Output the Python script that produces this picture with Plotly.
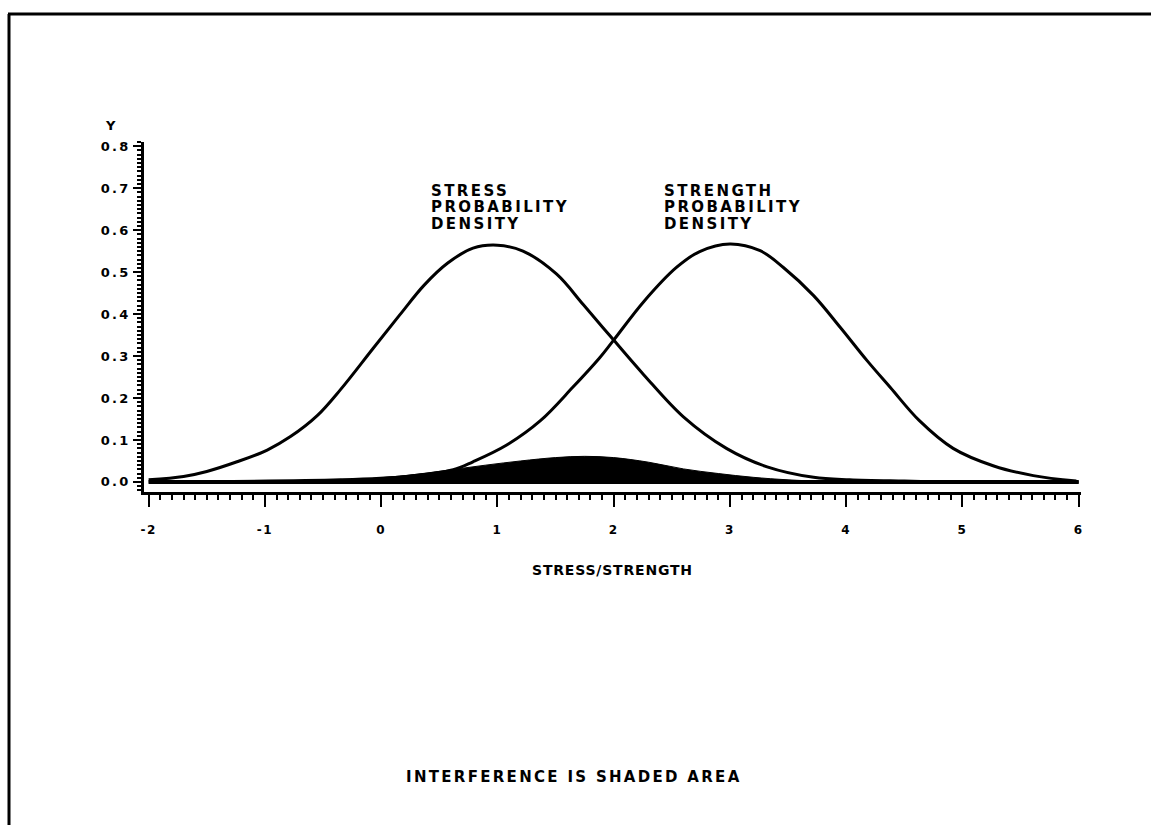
import plotly.graph_objects as go

# ---- data ----
stress_x = [-2.0, -1.7, -1.5, -1.24, -0.98, -0.78, -0.55, -0.35, -0.07, 0.16, 0.37, 0.57, 0.79, 1.0,
            1.22, 1.51, 1.74, 2.0, 2.26, 2.6, 2.97, 3.32, 3.72, 4.03, 4.5, 5.0, 6.0]
stress_y = [0.005, 0.013, 0.025, 0.048, 0.076, 0.108, 0.158, 0.220, 0.318, 0.398, 0.469, 0.521, 0.557, 0.564,
            0.550, 0.495, 0.422, 0.338, 0.255, 0.155, 0.080, 0.036, 0.011, 0.005, 0.002, 0.0, 0.0]

strength_x = [-2.0, -0.35, 0.22, 0.62, 0.79, 1.08, 1.37, 1.65, 1.88, 2.0, 2.26, 2.54, 2.74, 3.0,
              3.26, 3.46, 3.72, 3.95, 4.18, 4.38, 4.63, 4.92, 5.27, 5.61, 5.98]
strength_y = [0.0, 0.005, 0.013, 0.029, 0.048, 0.088, 0.146, 0.226, 0.296, 0.338, 0.430, 0.511, 0.549, 0.567,
              0.551, 0.511, 0.444, 0.368, 0.289, 0.225, 0.146, 0.080, 0.038, 0.015, 0.002]

shade_x = [-0.5, 0.0, 0.3, 0.6, 0.9, 1.2, 1.5, 1.75, 2.0, 2.3, 2.6, 2.9, 3.2, 3.5, 3.9]
shade_y = [0.0, 0.010, 0.018, 0.029, 0.040, 0.050, 0.058, 0.061, 0.058, 0.047, 0.031, 0.020, 0.011, 0.005, 0.0]

baseline_x = [-2.0, 6.0]
baseline_y = [0.0, 0.0]

x_tick_vals = [-2, -1, 0, 1, 2, 3, 4, 5, 6]
x_tick_text = ["-2", "-1", "0", "1", "2", "3", "4", "5", "6"]
y_tick_vals = [0.0, 0.1, 0.2, 0.3, 0.4, 0.5, 0.6, 0.7, 0.8]
y_tick_text = ["0.0", "0.1", "0.2", "0.3", "0.4", "0.5", "0.6", "0.7", "0.8"]

stress_label = ["STRESS", "PROBABILITY", "DENSITY"]
strength_label = ["STRENGTH", "PROBABILITY", "DENSITY"]
x_title = "STRESS/STRENGTH"
y_title = "Y"
footer = "INTERFERENCE IS SHADED AREA"

# ---- layout geometry ----
W, H = 1151, 825
ML, MR, MT, MB = 144, 70, 142, 333
PW = W - ML - MR
PH = H - MT - MB


def px(xp):
    return (xp - ML) / PW


def py(yp):
    return (H - MB - yp) / PH


FONT = "DejaVu Sans"


def spaced(s, sp):
    return f'<span style="letter-spacing:{sp}px">{s}</span>'


fig = go.Figure()
fig.add_trace(go.Scatter(x=shade_x, y=shade_y, mode="lines", fill="tozeroy",
                         fillcolor="black", line=dict(color="black", width=1, shape="spline"),
                         hoverinfo="skip", showlegend=False))
fig.add_trace(go.Scatter(x=baseline_x, y=baseline_y, mode="lines",
                         line=dict(color="black", width=4), showlegend=False))
fig.add_trace(go.Scatter(x=stress_x, y=stress_y, mode="lines",
                         line=dict(color="black", width=3, shape="spline", smoothing=1.0), showlegend=False))
fig.add_trace(go.Scatter(x=strength_x, y=strength_y, mode="lines",
                         line=dict(color="black", width=3, shape="spline", smoothing=1.0), showlegend=False))

annotations = []
LABEL_PITCH = 16.5
for lx, lines in ((430, stress_label), (663, strength_label)):
    for i, s in enumerate(lines):
        annotations.append(dict(text=spaced(s, 2.4), xref="paper", yref="paper",
                                x=px(lx - 1), y=py(190.5 + i * LABEL_PITCH), xanchor="left", yanchor="middle",
                                showarrow=False,
                                font=dict(family=FONT, size=15, color="black", weight="bold")))

annotations += [
    dict(text=spaced(x_title, 0.8), xref="paper", yref="paper", x=px(612), y=py(570),
         xanchor="center", yanchor="middle", showarrow=False,
         font=dict(family=FONT, size=14, color="black", weight="bold")),
    dict(text=y_title, xref="paper", yref="paper", x=px(110), y=py(125),
         xanchor="center", yanchor="middle", showarrow=False,
         font=dict(family=FONT, size=13, color="black", weight="bold")),
    dict(text=spaced(footer, 2.3), xref="paper", yref="paper", x=px(574), y=py(777),
         xanchor="center", yanchor="middle", showarrow=False,
         font=dict(family=FONT, size=15, color="black", weight="bold")),
]

shapes = [
    dict(type="line", xref="paper", yref="paper", x0=px(8), x1=px(1151), y0=py(14), y1=py(14),
         line=dict(color="black", width=3)),
    dict(type="line", xref="paper", yref="paper", x0=px(9), x1=px(9), y0=py(14), y1=py(825),
         line=dict(color="black", width=3)),
]

fig.update_layout(
    width=W, height=H,
    margin=dict(l=ML, r=MR, t=MT, b=MB),
    paper_bgcolor="white", plot_bgcolor="white",
    showlegend=False,
    annotations=annotations,
    shapes=shapes,
    xaxis=dict(range=[-2.04, 6.02], showgrid=False, zeroline=False, showline=True,
               linecolor="black", linewidth=3, ticks="outside", ticklen=12, tickwidth=2,
               tickcolor="black", tickmode="array", tickvals=x_tick_vals,
               ticktext=[spaced(t, 1.5) for t in x_tick_text], ticklabelstandoff=13,
               tickfont=dict(family=FONT, size=12, color="black", weight="bold"),
               minor=dict(ticks="outside", tick0=0, dtick=0.1, ticklen=5, tickwidth=2,
                          tickcolor="black", showgrid=False)),
    yaxis=dict(range=[-0.024, 0.81], showgrid=False, zeroline=False, showline=True,
               linecolor="black", linewidth=3, ticks="outside", ticklen=8, tickwidth=2,
               tickcolor="black", tickmode="array", tickvals=y_tick_vals,
               ticktext=[spaced(t, 2.2) for t in y_tick_text],
               tickfont=dict(family=FONT, size=13, color="black", weight="bold"),
               minor=dict(ticks="outside", tick0=0, dtick=0.01, ticklen=4, tickwidth=2,
                          tickcolor="black", showgrid=False)),
)

fig.write_html("out.html")
